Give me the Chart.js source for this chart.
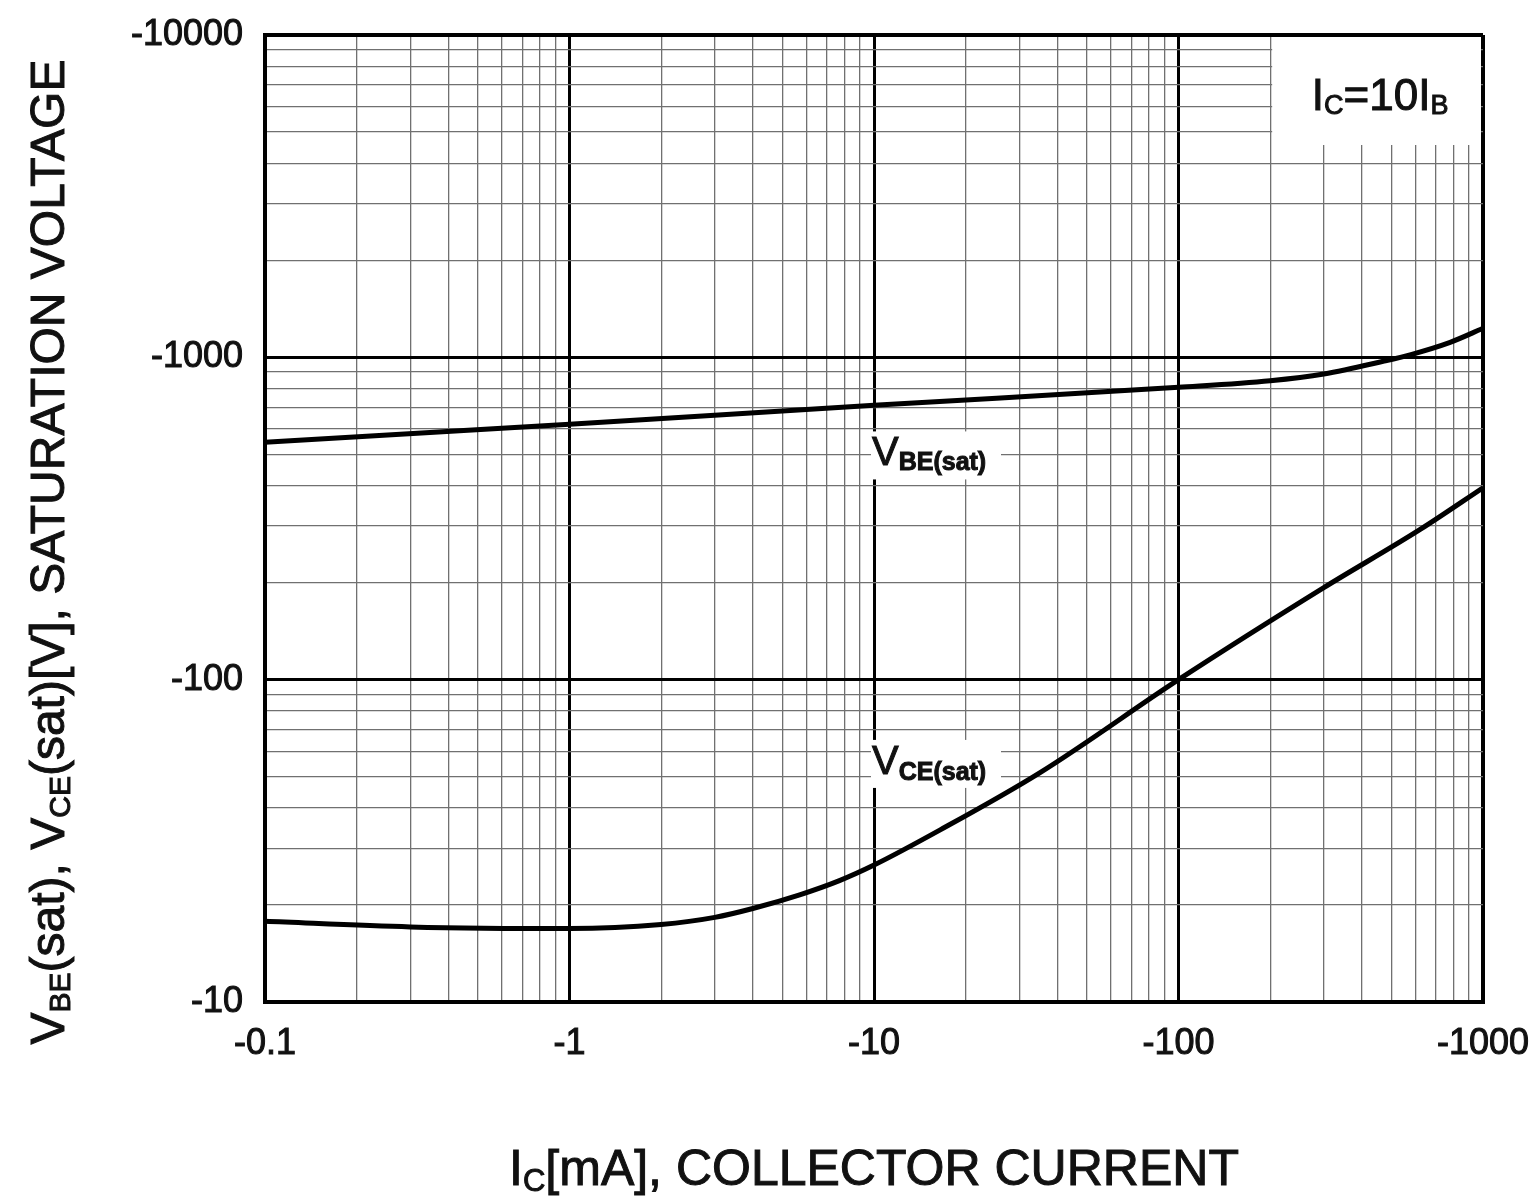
<!DOCTYPE html>
<html><head><meta charset="utf-8">
<script src="https://cdn.jsdelivr.net/npm/chart.js@4/dist/chart.umd.min.js"></script>
<style>html,body{margin:0;padding:0;background:#fff;overflow:hidden}#wrap{width:1534px;height:1203px;position:relative}</style>
</head><body><div id="wrap"><canvas id="c" width="1534" height="1203"></canvas></div>
<script>
// ---- data ----
const xMajorTicks = [0.1, 1, 10, 100, 1000];
const xTickLabels = ['-0.1', '-1', '-10', '-100', '-1000'];
const yMajorTicks = [10, 100, 1000, 10000];
const yTickLabels = ['-10', '-100', '-1000', '-10000'];
const minorMultipliers = [2, 3, 4, 5, 6, 7, 8, 9];

const icVBE  = [0.1, 1, 10, 100, 200, 300, 470, 580, 780, 1000];
const vbeSat = [545, 620, 710, 807, 846, 888, 972, 1020, 1113, 1230];

const icVCE  = [0.1, 0.3, 1, 2, 3, 4, 5.7, 7.7, 10, 16.5, 35, 100, 300, 620, 1000];
const vceSat = [17.8, 17.1, 16.9, 17.4, 18.3, 19.5, 21.5, 23.8, 26.6, 34.2, 51.4, 100, 193, 292, 394];

const FONT = "'Liberation Sans', Arial, sans-serif";

function allTicks(majors) {
  const out = [];
  majors.forEach((m, i) => {
    out.push(m);
    if (i < majors.length - 1) minorMultipliers.forEach(k => out.push(m * k));
  });
  return out;
}
function majorIndex(v, majors) {
  return majors.findIndex(m => Math.abs(v - m) / m < 1e-6);
}
function gridColor(majors) {
  return ctx => majorIndex(ctx.tick.value, majors) >= 0 ? '#000' : '#707070';
}
function gridWidth(majors) {
  return ctx => {
    const i = majorIndex(ctx.tick.value, majors);
    if (i === 0 || i === majors.length - 1) return 4;
    return i >= 0 ? 3 : 1.3;
  };
}

function drawRich(ctx, parts, x, y, align) {
  let total = 0;
  parts.forEach(p => { ctx.font = (p[3] || '') + ' ' + p[1] + 'px ' + FONT; p.w = ctx.measureText(p[0]).width; total += p.w; });
  let cx = align === 'center' ? x - total / 2 : x;
  ctx.textAlign = 'left';
  ctx.textBaseline = 'alphabetic';
  ctx.lineWidth = 1;
  ctx.strokeStyle = ctx.fillStyle;
  parts.forEach(p => {
    ctx.font = (p[3] || '') + ' ' + p[1] + 'px ' + FONT;
    ctx.fillText(p[0], cx, y + (p[2] || 0));
    ctx.strokeText(p[0], cx, y + (p[2] || 0));
    cx += p.w;
  });
  return total;
}

const annot = {
  id: 'annot',
  beforeDraw(chart) {
    const c = chart.ctx;
    c.save(); c.fillStyle = '#fff'; c.fillRect(0, 0, chart.width, chart.height); c.restore();
  },
  beforeDatasetsDraw(chart) {
    const c = chart.ctx, xs = chart.scales.x, ys = chart.scales.y, a = chart.chartArea;
    c.save();
    c.fillStyle = '#fff';
    // legend box top-right
    const bx = xs.getPixelForValue(200) + 2;
    c.fillRect(bx, a.top + 2, a.right - 2 - bx, 108);
    // label backgrounds
    const lx = xs.getPixelForValue(10);
    c.fillRect(lx - 3, ys.getPixelForValue(462) - 34, 130, 48);
    c.fillRect(lx - 3, ys.getPixelForValue(51) - 34, 130, 48);
    c.restore();
  },
  afterDatasetsDraw(chart) {
    const c = chart.ctx, xs = chart.scales.x, ys = chart.scales.y, a = chart.chartArea;
    c.save();
    c.fillStyle = '#111';
    const lx = xs.getPixelForValue(10) - 2;
    drawRich(c, [['V', 40], ['BE(sat)', 25, 5, 'bold']], lx, ys.getPixelForValue(462), 'left');
    drawRich(c, [['V', 40], ['CE(sat)', 25, 6, 'bold']], lx, ys.getPixelForValue(51), 'left');
    drawRich(c, [['I', 44], ['C', 27, 4], ['=10I', 44], ['B', 27, 4]], xs.getPixelForValue(274), ys.getPixelForValue(5850), 'left');
    // x axis title
    drawRich(c, [['I', 50], ['C', 31, 6], ['[mA], COLLECTOR CURRENT', 50]], (a.left + a.right) / 2, 1185, 'center');
    // y axis title
    c.translate(64, 552);
    c.rotate(-Math.PI / 2);
    drawRich(c, [['V', 48], ['BE', 30, 6], ['(sat), V', 48], ['CE', 30, 6], ['(sat)[V], SATURATION VOLTAGE', 48]], 0, 0, 'center');
    c.restore();
  }
};

const chart = new Chart(document.getElementById('c'), {
  type: 'line',
  data: {
    datasets: [
      { label: 'VBE(sat)', data: icVBE.map((x, i) => ({ x, y: vbeSat[i] })) },
      { label: 'VCE(sat)', data: icVCE.map((x, i) => ({ x, y: vceSat[i] })) }
    ]
  },
  options: {
    responsive: false,
    animation: false,
    devicePixelRatio: 1,
    layout: { padding: { left: 0, right: 51, top: 35, bottom: 0 } },
    elements: {
      point: { radius: 0 },
      line: { borderColor: '#000', borderWidth: 5, cubicInterpolationMode: 'monotone', fill: false }
    },
    plugins: { legend: { display: false }, tooltip: { enabled: false } },
    scales: {
      x: {
        type: 'logarithmic', min: 0.1, max: 1000, position: 'bottom',
        afterBuildTicks: s => { s.ticks = allTicks(xMajorTicks).map(v => ({ value: v })); },
        afterFit: s => { s.height = 201; s.paddingLeft = 0; s.paddingRight = 0; s.paddingTop = 0; s.paddingBottom = 0; },
        grid: { color: gridColor(xMajorTicks), lineWidth: gridWidth(xMajorTicks), drawTicks: false },
        border: { color: '#000', width: 4 },
        ticks: {
          autoSkip: false, maxRotation: 0, padding: 20, color: '#111',
          textStrokeColor: '#111', textStrokeWidth: 1,
          font: { family: FONT, size: 36 },
          callback: v => { const i = majorIndex(v, xMajorTicks); return i >= 0 ? xTickLabels[i] : ''; }
        }
      },
      y: {
        type: 'logarithmic', min: 10, max: 10000,
        afterBuildTicks: s => { s.ticks = allTicks(yMajorTicks).map(v => ({ value: v })); },
        afterFit: s => { s.width = 265; s.paddingLeft = 0; s.paddingRight = 0; s.paddingTop = 0; s.paddingBottom = 0; },
        grid: { color: gridColor(yMajorTicks), lineWidth: gridWidth(yMajorTicks), drawTicks: false },
        border: { color: '#000', width: 4 },
        ticks: {
          autoSkip: false, padding: 22, color: '#111',
          textStrokeColor: '#111', textStrokeWidth: 1,
          font: { family: FONT, size: 36 },
          callback: v => { const i = majorIndex(v, yMajorTicks); return i >= 0 ? yTickLabels[i] : ''; }
        }
      }
    }
  },
  plugins: [annot]
});
</script></body></html>
